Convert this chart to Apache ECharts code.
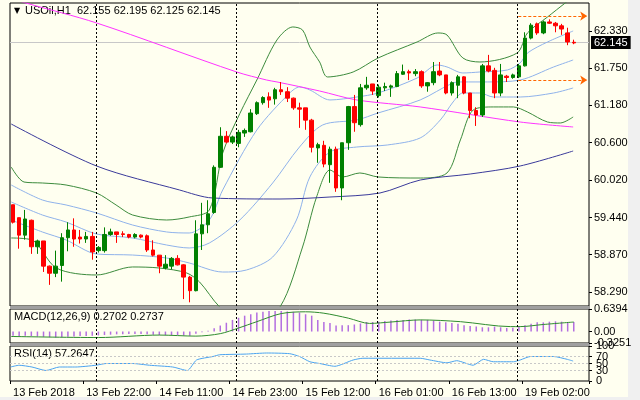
<!DOCTYPE html>
<html><head><meta charset="utf-8">
<script src="https://cdn.jsdelivr.net/npm/echarts@6/dist/echarts.min.js"></script>
<style>
html,body{margin:0;padding:0;background:#f0f0f0;}
#bg{position:absolute;left:0;top:0;width:628px;height:397px;background:#fffff0;}
#c{position:absolute;left:0;top:0;width:640px;height:400px;}
</style></head><body><div id="bg"></div><div id="c"></div>
<script>
const timeLabels = {0:'13 Feb 2018',12:'13 Feb 22:00',24:'14 Feb 11:00',36:'14 Feb 23:00',48:'15 Feb 12:00',60:'16 Feb 01:00',72:'16 Feb 13:00',84:'19 Feb 02:00'};
const categories = Array.from({length:95},(_, i)=> timeLabels[i] || '');
const opens  = [59.64,59.44,59.17,59.40,58.99,59.08,58.69,58.58,58.70,59.13,59.25,59.14,59.11,59.15,58.93,58.93,59.18,59.22,59.19,59.18,59.14,59.17,59.16,58.94,58.86,58.66,58.69,58.81,58.71,58.52,58.31,59.19,59.33,59.52,60.22,60.70,60.61,60.59,60.75,60.77,61.05,61.22,61.31,61.28,61.42,61.39,61.29,61.14,61.14,60.95,60.52,60.56,60.26,60.50,59.90,60.60,61.16,60.88,61.45,61.51,61.33,61.45,61.46,61.47,61.66,61.70,61.67,61.70,61.48,61.53,61.71,61.65,61.37,61.49,61.62,61.37,61.10,61.03,61.79,61.72,61.37,61.63,61.61,61.62,61.79,62.22,62.44,62.30,62.47,62.45,62.41,62.30,62.155];
const highs  = [59.64,59.44,59.56,59.41,59.10,59.08,58.70,58.93,59.20,59.37,59.43,59.25,59.22,59.22,59.00,59.29,59.27,59.22,59.23,59.19,59.20,59.18,59.18,59.09,58.86,58.86,58.83,58.86,58.72,58.54,59.40,59.67,59.71,60.25,60.84,60.78,60.71,60.80,60.82,61.12,61.24,61.32,61.38,61.45,61.54,61.46,61.30,61.22,61.14,60.97,60.60,60.63,60.54,60.54,60.60,61.17,61.34,61.51,61.62,61.51,61.50,61.53,61.50,61.71,61.81,61.73,61.74,61.72,61.54,61.85,61.85,61.65,61.55,61.65,61.63,61.37,61.15,61.82,61.96,61.76,61.82,61.65,61.67,61.82,62.31,62.45,62.46,62.49,62.51,62.47,62.44,62.38,62.195];
const lows   = [59.35,58.96,59.10,58.88,58.88,58.60,58.40,58.52,58.45,58.92,58.99,59.04,59.05,58.79,58.90,58.90,59.16,59.05,59.14,59.12,59.12,59.12,58.91,58.84,58.58,58.64,58.64,58.70,58.18,58.13,58.30,58.94,59.20,59.50,60.21,60.59,60.58,60.53,60.69,60.76,61.03,61.19,61.14,61.19,61.34,61.23,61.11,60.83,60.80,60.45,60.29,60.22,59.98,59.84,59.71,60.49,60.77,60.85,61.42,61.34,61.30,61.40,61.31,61.46,61.65,61.57,61.63,61.45,61.39,61.49,61.63,61.35,61.33,61.29,61.35,60.98,60.86,61.00,61.69,61.29,61.32,61.54,61.59,61.60,61.78,62.20,62.27,62.28,62.44,62.31,62.27,62.11,62.125];
const closes = [59.37,59.17,59.42,58.99,59.08,58.69,58.58,58.69,59.13,59.25,59.11,59.11,59.15,58.91,58.98,59.18,59.22,59.18,59.18,59.14,59.18,59.14,58.94,58.86,58.69,58.72,58.81,58.71,58.52,58.31,59.19,59.33,59.50,60.22,60.70,60.61,60.69,60.76,60.79,61.06,61.22,61.30,61.26,61.42,61.39,61.29,61.14,61.12,60.95,60.53,60.57,60.27,60.50,59.90,60.60,61.16,60.91,61.45,61.49,61.40,61.46,61.47,61.48,61.67,61.70,61.68,61.70,61.48,61.53,61.70,61.65,61.37,61.53,61.62,61.37,61.10,61.03,61.79,61.71,61.37,61.65,61.61,61.65,61.79,62.22,62.42,62.30,62.47,62.45,62.41,62.36,62.16,62.145];

const bandGreenUpper = [[-0.3,60.225],[1.8,59.992],[4.8,59.977],[8.7,59.946],[13.7,59.822],[16.9,59.637],[19.6,59.482],[25.2,59.404],[28.9,59.451],[32.2,59.559],[34.4,60.441],[37.2,61.05],[40.0,61.571],[43.3,62.191],[45.9,62.392],[47.5,62.345],[48.7,62.082],[50.3,61.850],[51.6,61.618],[55.8,61.695],[59.9,61.912],[66.3,62.160],[69.7,62.299],[71.2,62.268],[73.8,61.912],[76.6,61.850],[82.7,61.989],[84.4,62.299],[87.7,62.547],[90.6,62.763],[91.9,62.856]];
const bandBlueUpper = [[-0.3,59.946],[4.8,59.714],[8.7,59.637],[13.7,59.513],[19.6,59.327],[25.2,59.219],[28.9,59.203],[32.2,59.404],[34.4,59.869],[40.0,60.797],[45.4,61.370],[47.0,61.463],[48.7,61.417],[52.0,61.262],[56.4,61.308],[59.9,61.370],[66.3,61.602],[69.6,61.804],[71.2,61.773],[73.8,61.680],[76.6,61.695],[81.1,61.726],[83.2,61.835],[84.4,61.989],[87.7,62.160],[91.9,62.330]];
const bandMiddle = [[-0.3,59.683],[4.8,59.482],[8.7,59.373],[13.7,59.187],[19.6,59.126],[25.2,59.017],[28.9,58.971],[32.2,59.048],[37.2,59.404],[42.6,59.977],[47.0,60.534],[50.8,60.875],[56.4,60.952],[59.9,61.061],[66.8,61.262],[72.2,61.525],[73.8,61.541],[77.8,61.541],[83.2,61.571],[88.7,61.773],[91.9,61.881]];
const bandBlueLower = [[-0.3,59.404],[4.8,59.219],[8.7,59.095],[13.7,58.878],[19.6,58.862],[25.2,58.816],[28.9,58.739],[34.4,58.599],[38.3,58.630],[42.6,58.831],[46.5,59.404],[48.7,60.070],[52.0,60.457],[56.4,60.534],[61.4,60.565],[66.8,60.674],[70.1,60.952],[72.2,61.231],[73.8,61.370],[76.6,61.370],[78.8,61.308],[83.2,61.308],[88.7,61.370],[91.9,61.448]];
const bandGreenLower = [[-0.3,59.126],[3.1,59.095],[7.1,58.661],[13.7,58.553],[19.6,58.677],[24.0,58.661],[28.5,58.584],[30.6,58.445],[33.9,58.058],[38.8,57.70],[43.8,58.058],[47.5,58.986],[49.8,59.760],[52.0,60.178],[54.1,60.070],[56.9,60.132],[59.9,60.070],[66.8,60.054],[71.2,60.132],[73.4,60.643],[75.5,61.107],[78.8,61.154],[82.1,61.154],[84.4,61.076],[87.7,60.921],[89.8,60.906],[91.9,60.999]];
const maMagenta = [[-0.5,62.84],[2.1,62.763],[13.7,62.454],[36.7,61.695],[41.6,61.571],[43.3,61.541],[50.3,61.401],[56.4,61.262],[66.8,61.154],[83.2,60.921],[91.9,60.844]];
const maNavy = [[-0.3,60.890],[13.7,60.240],[27.3,59.869],[32.7,59.745],[43.8,59.729],[52.0,59.760],[60.2,59.822],[66.8,60.023],[75.0,60.116],[83.2,60.240],[91.9,60.472]];

const macdHist = [-0.12,-0.13,-0.12,-0.13,-0.14,-0.15,-0.16,-0.17,-0.16,-0.15,-0.14,-0.13,-0.13,-0.12,-0.11,-0.10,-0.09,-0.08,-0.08,-0.07,-0.07,-0.07,-0.08,-0.09,-0.10,-0.10,-0.10,-0.10,-0.11,-0.12,-0.06,-0.02,0.02,0.09,0.17,0.25,0.33,0.39,0.45,0.49,0.54,0.56,0.58,0.58,0.58,0.57,0.56,0.54,0.49,0.45,0.33,0.27,0.24,0.17,0.18,0.18,0.20,0.23,0.27,0.27,0.28,0.30,0.31,0.33,0.33,0.34,0.34,0.33,0.33,0.31,0.28,0.26,0.24,0.22,0.18,0.16,0.14,0.12,0.12,0.14,0.12,0.10,0.11,0.14,0.18,0.22,0.26,0.26,0.28,0.29,0.28,0.27,0.27];
const macdSignal = [[-0.3,-0.14],[14,-0.17],[24,-0.10],[30,-0.13],[34,-0.06],[37,0.10],[40,0.28],[44,0.51],[48,0.56],[51,0.52],[55,0.38],[58.5,0.23],[62,0.27],[66.8,0.33],[73.4,0.28],[81.6,0.14],[83.2,0.14],[87,0.20],[92,0.27]];
const rsiLine = [[-0.4,40],[1,45],[3.1,40],[5.4,30],[7.6,40],[10.3,40],[13.6,45],[15.3,50],[19.6,50],[22.4,45],[26.2,40],[28.6,30],[30.1,60],[32.8,70],[33.9,75],[38.3,77],[41.6,80],[45.4,78],[47,70],[48.7,55],[50.3,50],[52.8,42],[55.8,60],[57.4,65],[66.8,65],[68.4,60],[71.2,52],[72.8,58],[75.5,45],[77.2,62],[78.8,55],[82.1,55],[83.2,60],[84.9,70],[88.7,70],[90.9,62],[91.9,57]];

const priceTicks = [62.330,61.750,61.180,60.600,60.020,59.440,58.870,58.290];
const macdTicks = [0.6394,0,-0.3251];
const rsiTicks = [100,70,50,30,0];
const rsiLevels = [70,50,30];
const dayLines = [13.6,36.6,59.7,82.8];
const lastPrice = 62.145;
const levelHigh = 62.56, levelLow = 61.57, levelStart = 82.9;

const F = 'Liberation Sans';
const chart = echarts.init(document.getElementById('c'));
const dashV = {silent:true,symbol:'none',label:{show:false},lineStyle:{color:'#000',type:[2,2],width:1},data:dayLines.map(v=>({xAxis:v}))};
function vx(g){return {type:'value',gridIndex:g,min:-0.5,max:94.5,show:false};}
function cx(g,show){return {type:'category',gridIndex:g,data:categories,boundaryGap:true,
  axisLine:{show:false},axisTick:{show:show,interval:(i,v)=>v!=='',length:3,lineStyle:{color:'#000'},inside:false},
  axisLabel:{show:show,interval:0,align:'left',color:'#000',fontFamily:F,fontSize:11,margin:6},splitLine:{show:false}};}
function line(name,data,color,xi,yi,w){return {name,type:'line',xAxisIndex:xi,yAxisIndex:yi,data,symbol:'none',smooth:0.3,lineStyle:{color,width:w||1},silent:true,z:3};}
function yAx(g,min,max,ticks,fmt,showLabels){return {type:'value',gridIndex:g,min,max,position:'right',
  axisLine:{show:false,onZero:false},splitLine:{show:false},
  axisTick:{show:true,length:3,lineStyle:{color:'#000'},customValues:ticks},
  axisLabel:{show:showLabels,color:'#000',fontFamily:F,fontSize:11,margin:5,customValues:ticks,formatter:fmt,showMinLabel:true,showMaxLabel:true,hideOverlap:false}};}
const rsiMarks = rsiLevels.map(v=>({yAxis:v,lineStyle:{color:'#c8c8c8',type:[2,2]},label:{show:false}}))
  .concat(dayLines.map(v=>({xAxis:v,lineStyle:{color:'#000',type:[2,2],width:1},label:{show:false}})));
const rsiLabelMarks = rsiTicks.map(v=>({yAxis:v,label:{show:true,position:'end',formatter:String(v),color:'#000',fontFamily:F,fontSize:11,distance:7}}));
chart.setOption({
  animation:false,
  backgroundColor:'transparent',
  grid:[
    {left:10,right:51,top:3,height:303,show:true,borderColor:'#000',borderWidth:1,backgroundColor:'transparent'},
    {left:10,right:51,top:309,height:34,show:true,borderColor:'#000',borderWidth:1},
    {left:10,right:51,top:346,height:35,show:true,borderColor:'#000',borderWidth:1}
  ],
  xAxis:[cx(0,false),vx(0),cx(1,false),vx(1),cx(2,true),vx(2)],
  yAxis:[
    yAx(0,58.073,62.763,priceTicks,v=>v.toFixed(3),true),
    yAx(1,-0.3251,0.6394,macdTicks,v=>Math.abs(v)<1e-9?'0.00':v.toFixed(4),true),
    yAx(2,0,100,rsiTicks,v=>String(Math.round(v)),false)
  ],
  series:[
    line('bgu',bandGreenUpper,'#3d8b3d',1,0),
    line('bbu',bandBlueUpper,'#8fb2ea',1,0),
    line('bm',bandMiddle,'#8fb2ea',1,0),
    line('bbl',bandBlueLower,'#8fb2ea',1,0),
    line('bgl',bandGreenLower,'#3d8b3d',1,0),
    line('ma1',maMagenta,'#ff33ff',1,0),
    Object.assign(line('ma2',maNavy,'#3a3a9a',1,0),{markLine:dashV}),
    {type:'line',xAxisIndex:1,yAxisIndex:0,data:[],silent:true,
      markLine:{silent:true,symbol:['none','arrow'],symbolSize:7,label:{show:false},
        lineStyle:{color:'#ff6600',type:[3,2],width:1},
        data:[[{coord:[levelStart,levelHigh]},{coord:[94.2,levelHigh]}],[{coord:[levelStart,levelLow]},{coord:[94.2,levelLow]}]]}},
    {type:'candlestick',xAxisIndex:0,yAxisIndex:0,barWidth:4,z:4,
      data:opens.map((o,i)=>[o,closes[i],lows[i],highs[i]]),
      itemStyle:{color:'#008000',color0:'#ff0000',borderColor:'#008000',borderColor0:'#ff0000',borderWidth:1},
      markLine:{silent:true,symbol:'none',z:1,lineStyle:{color:'#c8c8c8',type:'solid',width:1},
        label:{show:true,position:'end',formatter:lastPrice.toFixed(3),backgroundColor:'#000',color:'#fff',fontFamily:F,fontSize:11,padding:[1,3],distance:2},
        data:[{yAxis:lastPrice}]}},
    {type:'bar',xAxisIndex:2,yAxisIndex:1,data:macdHist,barWidth:1.5,itemStyle:{color:'#b36ee0'},silent:true},
    Object.assign(line('sig',macdSignal,'#2e8b2e',3,1),{markLine:dashV}),
    Object.assign(line('rsi',rsiLine,'#4aa3f0',5,2),{smooth:0.2,markLine:{silent:true,symbol:'none',data:rsiMarks}}),
    {type:'line',xAxisIndex:5,yAxisIndex:2,data:[],silent:true,
      markLine:{silent:true,symbol:'none',lineStyle:{color:'transparent',width:0},data:rsiLabelMarks}}
  ],
  graphic:[
    {type:'rect',shape:{x:10,y:306,width:580,height:3},style:{fill:'#a0a0a0'},silent:true},
    {type:'rect',shape:{x:10,y:343,width:580,height:3},style:{fill:'#a0a0a0'},silent:true},
    {type:'text',left:14,top:7,style:{text:'▼',fontSize:8,fill:'#000',fontFamily:'DejaVu Sans'}},
    {type:'text',left:25,top:5,style:{text:'USOil,H1  62.155 62.195 62.125 62.145',fontSize:11,fill:'#000',fontFamily:F}},
    {type:'text',left:14,top:311,style:{text:'MACD(12,26,9) 0.2702 0.2737',fontSize:11,fill:'#000',fontFamily:F}},
    {type:'text',left:14,top:348,style:{text:'RSI(14) 57.2647',fontSize:11,fill:'#000',fontFamily:F}}
  ]
});
</script></body></html>
